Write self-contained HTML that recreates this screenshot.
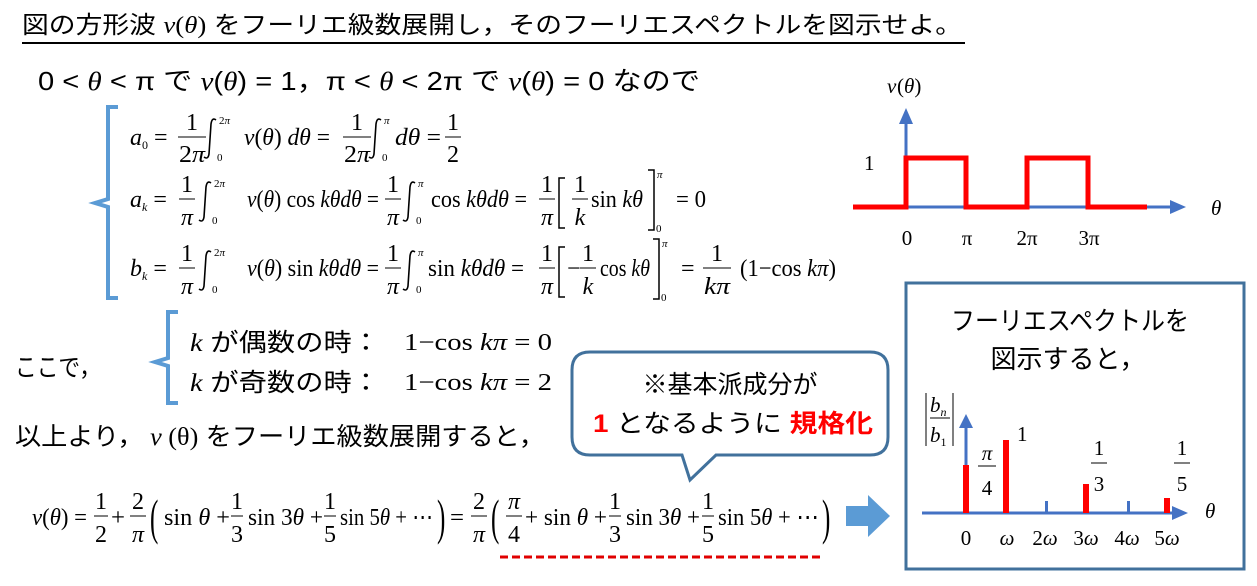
<!DOCTYPE html>
<html><head><meta charset="utf-8"><style>
html,body{margin:0;padding:0;background:#fff;}
svg{display:block;}
.j{font-family:"Liberation Sans","Noto Sans CJK JP",sans-serif;}
.m{font-family:"Liberation Serif","DejaVu Serif",serif;}
.ig{fill:none;stroke:#000;stroke-width:1.6;}
</style></head><body>
<svg width="1257" height="586" viewBox="0 0 1257 586" xmlns="http://www.w3.org/2000/svg">
<text x="22" y="33" class="j" font-size="24" textLength="940" lengthAdjust="spacingAndGlyphs">図の方形波 <tspan class="m" font-style="italic">v</tspan><tspan class="m">(</tspan><tspan class="m" font-style="italic">θ</tspan><tspan class="m">)</tspan> をフーリエ級数展開し，そのフーリエスペクトルを図示せよ。</text>
<line x1="22" y1="43" x2="965" y2="43" stroke="#000" stroke-width="2"/>
<text x="38" y="90" class="j" font-size="26" textLength="662" lengthAdjust="spacingAndGlyphs">0 &lt; <tspan class="m" font-style="italic">θ</tspan> &lt; π で <tspan class="m" font-style="italic">v</tspan>(<tspan class="m" font-style="italic">θ</tspan>) = 1，π &lt; <tspan class="m" font-style="italic">θ</tspan>  &lt; 2π で <tspan class="m" font-style="italic">v</tspan>(<tspan class="m" font-style="italic">θ</tspan>) = 0 なので</text>
<path d="M118,107 H108 V199 L95,203 L108,207 V298 H118" fill="none" stroke="#5b9bd5" stroke-width="4"/>
<!-- integrals -->
<path class="ig" d="M216,120 q-4,-3 -5,4 l-2,30 q-1,6 -5,3"/>
<path class="ig" d="M381,120 q-4,-3 -5,4 l-2,30 q-1,6 -5,3"/>
<path class="ig" d="M211,183 q-4,-3 -5,4 l-2,30 q-1,6 -5,3"/>
<path class="ig" d="M415,183 q-4,-3 -5,4 l-2,30 q-1,6 -5,3"/>
<path class="ig" d="M211,252 q-4,-3 -5,4 l-2,30 q-1,6 -5,3"/>
<path class="ig" d="M415,252 q-4,-3 -5,4 l-2,30 q-1,6 -5,3"/>
<g class="m" font-size="24">
<!-- a0 -->
<text x="130" y="145"><tspan font-style="italic">a</tspan><tspan font-size="12" dy="4">0</tspan><tspan dy="-4"> =</tspan></text>
<text x="192" y="130" text-anchor="middle">1</text><line x1="178" y1="137" x2="206" y2="137" stroke="#000"/><text x="192" y="162" text-anchor="middle" textLength="26" lengthAdjust="spacingAndGlyphs">2<tspan font-style="italic">π</tspan></text>
<text x="219" y="124" font-size="11">2<tspan font-style="italic">π</tspan></text><text x="217" y="161" font-size="11">0</text>
<text x="244" y="145" textLength="86" lengthAdjust="spacingAndGlyphs"><tspan font-style="italic">v</tspan>(<tspan font-style="italic">θ</tspan>) <tspan font-style="italic">dθ</tspan> =</text>
<text x="357" y="130" text-anchor="middle">1</text><line x1="343" y1="137" x2="371" y2="137" stroke="#000"/><text x="357" y="162" text-anchor="middle" textLength="26" lengthAdjust="spacingAndGlyphs">2<tspan font-style="italic">π</tspan></text>
<text x="384" y="124" font-size="11" font-style="italic">π</text><text x="382" y="161" font-size="11">0</text>
<text x="395" y="145" textLength="46" lengthAdjust="spacingAndGlyphs"><tspan font-style="italic">dθ</tspan> =</text>
<text x="453" y="130" text-anchor="middle">1</text><line x1="445" y1="137" x2="461" y2="137" stroke="#000"/><text x="453" y="162" text-anchor="middle">2</text>
<!-- ak -->
<text x="130" y="207"><tspan font-style="italic">a</tspan><tspan font-size="12" dy="4" font-style="italic">k</tspan><tspan dy="-4"> =</tspan></text>
<text x="187" y="192" text-anchor="middle">1</text><line x1="179" y1="199" x2="195" y2="199" stroke="#000"/><text x="187" y="225" text-anchor="middle" font-style="italic">π</text>
<text x="214" y="187" font-size="11">2<tspan font-style="italic">π</tspan></text><text x="212" y="224" font-size="11">0</text>
<text x="247" y="207" textLength="132" lengthAdjust="spacingAndGlyphs"><tspan font-style="italic">v</tspan>(<tspan font-style="italic">θ</tspan>) cos <tspan font-style="italic">kθdθ</tspan> =</text>
<text x="393" y="192" text-anchor="middle">1</text><line x1="385" y1="199" x2="401" y2="199" stroke="#000"/><text x="393" y="225" text-anchor="middle" font-style="italic">π</text>
<text x="418" y="187" font-size="11" font-style="italic">π</text><text x="416" y="224" font-size="11">0</text>
<text x="431" y="207" textLength="96" lengthAdjust="spacingAndGlyphs">cos <tspan font-style="italic">kθdθ</tspan> =</text>
<text x="547" y="192" text-anchor="middle">1</text><line x1="539" y1="199" x2="555" y2="199" stroke="#000"/><text x="547" y="225" text-anchor="middle" font-style="italic">π</text>
<path d="M565,178 H559 V228 H565" fill="none" stroke="#000" stroke-width="1.5"/>
<text x="580" y="192" text-anchor="middle">1</text><line x1="572" y1="199" x2="588" y2="199" stroke="#000"/><text x="580" y="225" text-anchor="middle" font-style="italic">k</text>
<text x="591" y="207" textLength="52" lengthAdjust="spacingAndGlyphs">sin <tspan font-style="italic">kθ</tspan></text>
<path d="M648,170 H654 V230 H648" fill="none" stroke="#000" stroke-width="1.5"/>
<text x="657" y="178" font-size="11" font-style="italic">π</text><text x="656" y="232" font-size="11">0</text>
<text x="676" y="207" textLength="30" lengthAdjust="spacingAndGlyphs">= 0</text>
<!-- bk -->
<text x="130" y="276"><tspan font-style="italic">b</tspan><tspan font-size="12" dy="4" font-style="italic">k</tspan><tspan dy="-4"> =</tspan></text>
<text x="187" y="261" text-anchor="middle">1</text><line x1="179" y1="268" x2="195" y2="268" stroke="#000"/><text x="187" y="294" text-anchor="middle" font-style="italic">π</text>
<text x="214" y="256" font-size="11">2<tspan font-style="italic">π</tspan></text><text x="212" y="293" font-size="11">0</text>
<text x="247" y="276" textLength="132" lengthAdjust="spacingAndGlyphs"><tspan font-style="italic">v</tspan>(<tspan font-style="italic">θ</tspan>) sin <tspan font-style="italic">kθdθ</tspan> =</text>
<text x="393" y="261" text-anchor="middle">1</text><line x1="385" y1="268" x2="401" y2="268" stroke="#000"/><text x="393" y="294" text-anchor="middle" font-style="italic">π</text>
<text x="418" y="256" font-size="11" font-style="italic">π</text><text x="416" y="293" font-size="11">0</text>
<text x="428" y="276" textLength="96" lengthAdjust="spacingAndGlyphs">sin <tspan font-style="italic">kθdθ</tspan> =</text>
<text x="547" y="261" text-anchor="middle">1</text><line x1="539" y1="268" x2="555" y2="268" stroke="#000"/><text x="547" y="294" text-anchor="middle" font-style="italic">π</text>
<path d="M565,247 H559 V297 H565" fill="none" stroke="#000" stroke-width="1.5"/>
<text x="567" y="276">−</text>
<text x="588" y="261" text-anchor="middle">1</text><line x1="580" y1="268" x2="596" y2="268" stroke="#000"/><text x="588" y="294" text-anchor="middle" font-style="italic">k</text>
<text x="600" y="276" textLength="50" lengthAdjust="spacingAndGlyphs">cos <tspan font-style="italic">kθ</tspan></text>
<path d="M653,239 H659 V299 H653" fill="none" stroke="#000" stroke-width="1.5"/>
<text x="662" y="247" font-size="11" font-style="italic">π</text><text x="661" y="301" font-size="11">0</text>
<text x="681" y="276">=</text>
<text x="717" y="261" text-anchor="middle">1</text><line x1="703" y1="268" x2="731" y2="268" stroke="#000"/><text x="717" y="294" text-anchor="middle" font-style="italic" textLength="26" lengthAdjust="spacingAndGlyphs">kπ</text>
<text x="740" y="276" textLength="96" lengthAdjust="spacingAndGlyphs">(1−cos <tspan font-style="italic">kπ</tspan>)</text>
</g>
<!-- waveform graph -->
<line x1="906" y1="207" x2="1172" y2="207" stroke="#4472c4" stroke-width="3"/>
<polygon points="1170,200 1186,207 1170,214" fill="#4472c4"/>
<line x1="906" y1="207" x2="906" y2="122" stroke="#4472c4" stroke-width="3"/>
<polygon points="899,124 906,108 913,124" fill="#4472c4"/>
<polyline points="853,207 906,207 906,158 966,158 966,207 1027,207 1027,158 1088,158 1088,207 1147,207" fill="none" stroke="#ff0000" stroke-width="5"/>
<g class="m" font-size="21">
<text x="887" y="93" font-style="italic">v</text><text x="897" y="93">(<tspan font-style="italic">θ</tspan>)</text>
<text x="864" y="170">1</text>
<text x="1211" y="215" font-style="italic">θ</text>
<text x="907" y="245" text-anchor="middle">0</text>
<text x="967" y="245" text-anchor="middle">π</text>
<text x="1027" y="245" text-anchor="middle">2π</text>
<text x="1089" y="245" text-anchor="middle">3π</text>
</g>
<text x="15" y="376" class="j" font-size="25" textLength="86" lengthAdjust="spacingAndGlyphs">ここで，</text>
<path d="M178,312 H168 V358 L155,362 L168,366 V403 H178" fill="none" stroke="#5b9bd5" stroke-width="4"/>
<text x="190" y="351" class="j" font-size="25" textLength="190" lengthAdjust="spacingAndGlyphs"><tspan class="m" font-style="italic">k</tspan> が偶数の時：</text>
<text x="190" y="391" class="j" font-size="25" textLength="190" lengthAdjust="spacingAndGlyphs"><tspan class="m" font-style="italic">k</tspan> が奇数の時：</text>
<text x="404" y="350" class="m" font-size="24" textLength="148" lengthAdjust="spacingAndGlyphs">1−cos <tspan font-style="italic">kπ</tspan> = 0</text>
<text x="404" y="390" class="m" font-size="24" textLength="148" lengthAdjust="spacingAndGlyphs">1−cos <tspan font-style="italic">kπ</tspan> = 2</text>
<text x="15" y="445" class="j" font-size="25" textLength="530" lengthAdjust="spacingAndGlyphs">以上より，<tspan class="m" font-style="italic"> v</tspan><tspan class="m"> (θ)</tspan> をフーリエ級数展開すると，</text>
<path d="M590,352 H870 Q888,352 888,370 V437 Q888,455 870,455 H716 L690,480 L682,455 H590 Q572,455 572,437 V370 Q572,352 590,352 Z" fill="#fff" stroke="#41719c" stroke-width="3"/>
<text x="730" y="393" class="j" font-size="25" text-anchor="middle">※基本派成分が</text>
<text x="593" y="432" class="j" font-size="25" textLength="280" lengthAdjust="spacingAndGlyphs"><tspan fill="#ff0000" font-weight="bold">1</tspan> となるように <tspan fill="#ff0000" font-weight="bold">規格化</tspan></text>
<g class="m" font-size="24">
<text x="32" y="525" textLength="55" lengthAdjust="spacingAndGlyphs"><tspan font-style="italic">v</tspan>(<tspan font-style="italic">θ</tspan>) =</text>
<text x="101" y="509" text-anchor="middle">1</text><line x1="94" y1="516" x2="108" y2="516" stroke="#000"/><text x="101" y="542" text-anchor="middle">2</text>
<text x="111" y="525" textLength="14" lengthAdjust="spacingAndGlyphs">+</text>
<text x="138" y="509" text-anchor="middle">2</text><line x1="130" y1="516" x2="146" y2="516" stroke="#000"/><text x="138" y="542" text-anchor="middle" font-style="italic">π</text>
<text x="150" y="534" font-size="50" transform="translate(150,534) scale(0.5,1) translate(-150,-534)">(</text>
<text x="164" y="525" textLength="66" lengthAdjust="spacingAndGlyphs">sin <tspan font-style="italic">θ</tspan> +</text>
<text x="237" y="509" text-anchor="middle">1</text><line x1="231" y1="516" x2="243" y2="516" stroke="#000"/><text x="237" y="542" text-anchor="middle">3</text>
<text x="248" y="525" textLength="75" lengthAdjust="spacingAndGlyphs">sin 3<tspan font-style="italic">θ</tspan> +</text>
<text x="330" y="509" text-anchor="middle">1</text><line x1="324" y1="516" x2="336" y2="516" stroke="#000"/><text x="330" y="542" text-anchor="middle">5</text>
<text x="340" y="525" textLength="93" lengthAdjust="spacingAndGlyphs">sin 5<tspan font-style="italic">θ</tspan> + ⋯</text>
<text x="437" y="534" font-size="50" transform="translate(437,534) scale(0.5,1) translate(-437,-534)">)</text>
<text x="450" y="525" textLength="14" lengthAdjust="spacingAndGlyphs">=</text>
<text x="479" y="509" text-anchor="middle">2</text><line x1="471" y1="516" x2="487" y2="516" stroke="#000"/><text x="479" y="542" text-anchor="middle" font-style="italic">π</text>
<text x="491" y="534" font-size="50" transform="translate(491,534) scale(0.5,1) translate(-491,-534)">(</text>
<text x="514" y="509" text-anchor="middle" font-style="italic">π</text><line x1="506" y1="516" x2="522" y2="516" stroke="#000"/><text x="514" y="542" text-anchor="middle">4</text>
<text x="525" y="525" textLength="82" lengthAdjust="spacingAndGlyphs">+ sin <tspan font-style="italic">θ</tspan> +</text>
<text x="615" y="509" text-anchor="middle">1</text><line x1="609" y1="516" x2="621" y2="516" stroke="#000"/><text x="615" y="542" text-anchor="middle">3</text>
<text x="626" y="525" textLength="74" lengthAdjust="spacingAndGlyphs">sin 3<tspan font-style="italic">θ</tspan> +</text>
<text x="708" y="509" text-anchor="middle">1</text><line x1="702" y1="516" x2="714" y2="516" stroke="#000"/><text x="708" y="542" text-anchor="middle">5</text>
<text x="718" y="525" textLength="101" lengthAdjust="spacingAndGlyphs">sin 5<tspan font-style="italic">θ</tspan> + ⋯</text>
<text x="822" y="534" font-size="50" transform="translate(822,534) scale(0.5,1) translate(-822,-534)">)</text>
</g>
<line x1="500" y1="557" x2="820" y2="557" stroke="#e00000" stroke-width="3" stroke-dasharray="8,4"/>
<polygon points="846,506 868,506 868,495 890,516 868,537 868,526 846,526" fill="#5b9bd5"/>
<rect x="906" y="283" width="338" height="286" fill="#fff" stroke="#41719c" stroke-width="3"/>
<text x="1070" y="330" class="j" font-size="26" text-anchor="middle" textLength="238" lengthAdjust="spacingAndGlyphs">フーリエスペクトルを</text>
<text x="1068" y="368" class="j" font-size="26" text-anchor="middle">図示すると，</text>
<line x1="922" y1="513" x2="1175" y2="513" stroke="#4472c4" stroke-width="3"/>
<polygon points="1172,506 1188,513 1172,520" fill="#4472c4"/>
<line x1="966" y1="513" x2="966" y2="425" stroke="#4472c4" stroke-width="3"/>
<polygon points="959,428 966,414 973,428" fill="#4472c4"/>
<rect x="963" y="465" width="6" height="48" fill="#ff0000"/>
<rect x="1003" y="440" width="6" height="73" fill="#ff0000"/>
<rect x="1045" y="501" width="3" height="12" fill="#4472c4"/>
<rect x="1083" y="484" width="6" height="29" fill="#ff0000"/>
<rect x="1127" y="501" width="3" height="12" fill="#4472c4"/>
<rect x="1164" y="498" width="6" height="15" fill="#ff0000"/>
<g class="m" font-size="21">
<line x1="926" y1="393" x2="926" y2="446" stroke="#000"/><line x1="953" y1="393" x2="953" y2="446" stroke="#000"/>
<text x="930" y="412" font-style="italic">b<tspan font-size="12" dy="4">n</tspan></text>
<line x1="930" y1="418" x2="950" y2="418" stroke="#000"/>
<text x="930" y="442" font-style="italic">b<tspan font-size="12" dy="4" font-style="normal">1</tspan></text>
<text x="987" y="460" text-anchor="middle" font-style="italic">π</text><line x1="978" y1="466" x2="996" y2="466" stroke="#000"/><text x="987" y="495" text-anchor="middle">4</text>
<text x="1017" y="441">1</text>
<text x="1099" y="455" text-anchor="middle">1</text><line x1="1091" y1="463" x2="1107" y2="463" stroke="#000"/><text x="1099" y="491" text-anchor="middle">3</text>
<text x="1182" y="455" text-anchor="middle">1</text><line x1="1174" y1="463" x2="1190" y2="463" stroke="#000"/><text x="1182" y="491" text-anchor="middle">5</text>
<text x="1205" y="518" font-style="italic">θ</text>
<text x="966" y="545" text-anchor="middle">0</text>
<text x="1007" y="545" text-anchor="middle" font-style="italic">ω</text>
<text x="1045" y="545" text-anchor="middle">2<tspan font-style="italic">ω</tspan></text>
<text x="1086" y="545" text-anchor="middle">3<tspan font-style="italic">ω</tspan></text>
<text x="1127" y="545" text-anchor="middle">4<tspan font-style="italic">ω</tspan></text>
<text x="1167" y="545" text-anchor="middle">5<tspan font-style="italic">ω</tspan></text>
</g>
</svg>
</body></html>
